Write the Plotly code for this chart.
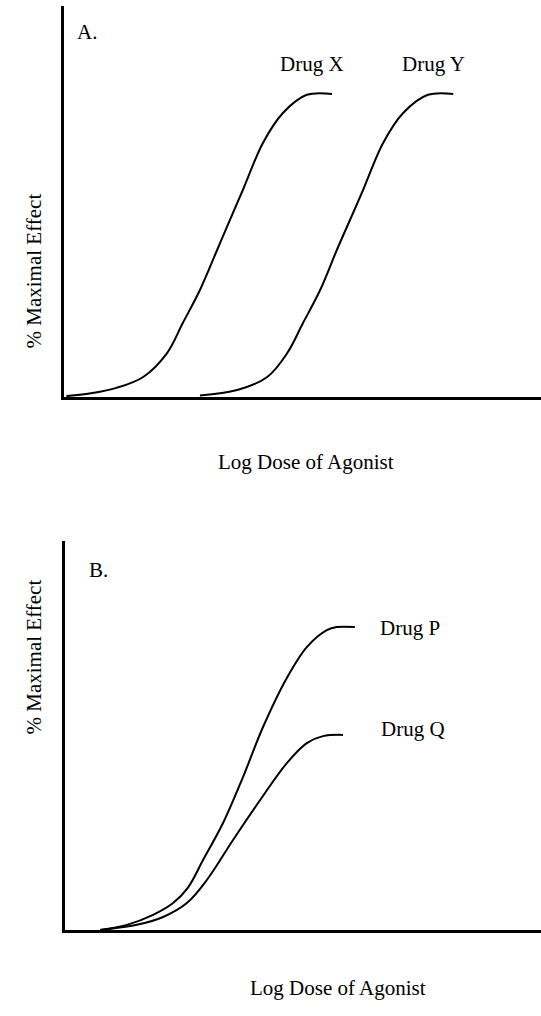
import plotly.graph_objects as go

# ---- Data (arbitrary log-dose units, % maximal effect) ----
# Panel A
drug_x_dose = [0.05, 0.6, 1.1, 1.66, 2.16, 2.49, 2.85, 3.21, 3.54, 3.75, 4.17, 4.59, 5.09, 5.62]
drug_x_eff = [0.3, 1.3, 3.0, 6.6, 14.5, 24.4, 35.3, 48.5, 60.7, 68.3, 83.8, 93.7, 99.7, 100]
drug_y_dose = [2.85, 3.63, 4.26, 4.68, 5.01, 5.37, 5.72, 6.06, 6.27, 6.69, 7.11, 7.63, 8.16]
drug_y_eff = [0.5, 2.3, 6.6, 14.5, 24.4, 35.3, 48.5, 60.7, 68.3, 83.8, 93.7, 99.7, 100]

# Panel B
drug_p_dose = [0.74, 1.30, 1.85, 2.27, 2.58, 2.90, 3.32, 3.74, 4.16, 4.66, 5.08, 5.50, 5.71, 6.09]
drug_p_eff = [0, 1.7, 5.0, 8.9, 13.9, 23.1, 35.3, 50.5, 67.0, 83.2, 93.4, 99.0, 100, 100]
drug_q_dose = [0.74, 1.51, 2.06, 2.56, 2.98, 3.53, 4.10, 4.66, 5.08, 5.42, 5.84]
drug_q_eff = [0, 1.7, 4.3, 8.9, 16.5, 29.7, 42.9, 55.1, 61.7, 64.0, 64.4]

FONT = "Liberation Serif, Times New Roman, serif"
FS = 21
W, H = 541, 1016

fig = go.Figure()
line = dict(color="black", width=2, shape="spline", smoothing=1.0)
fig.add_trace(go.Scatter(x=drug_x_dose, y=drug_x_eff, mode="lines", line=line, xaxis="x", yaxis="y", showlegend=False))
fig.add_trace(go.Scatter(x=drug_y_dose, y=drug_y_eff, mode="lines", line=line, xaxis="x", yaxis="y", showlegend=False))
fig.add_trace(go.Scatter(x=drug_p_dose, y=drug_p_eff, mode="lines", line=line, xaxis="x2", yaxis="y2", showlegend=False))
fig.add_trace(go.Scatter(x=drug_q_dose, y=drug_q_eff, mode="lines", line=line, xaxis="x2", yaxis="y2", showlegend=False))

ax_common = dict(showline=True, linecolor="black", linewidth=2.5, showgrid=False, zeroline=False,
                 showticklabels=False, ticks="", fixedrange=True)

fig.update_layout(
    width=W, height=H,
    margin=dict(l=0, r=0, t=0, b=0),
    paper_bgcolor="white", plot_bgcolor="white",
    font=dict(family=FONT, size=FS, color="black"),
    xaxis=dict(domain=[64 / W, 1], range=[0, 10], anchor="y", **ax_common),
    yaxis=dict(domain=[1 - 397 / H, 1 - 6 / H], range=[0, 129], anchor="x", **ax_common),
    xaxis2=dict(domain=[65 / W, 1], range=[0, 10], anchor="y2", **ax_common),
    yaxis2=dict(domain=[1 - 930 / H, 1 - 541 / H], range=[0, 128.4], anchor="x2", **ax_common),
)

ann = []
def a(text, x, y, xref, yref, **kw):
    d = dict(text=text, x=x, y=y, xref=xref, yref=yref, showarrow=False,
             font=dict(family=FONT, size=FS, color="black"))
    d.update(kw)
    ann.append(d)

# Panel A labels
a("A.", 0.23, 120.5, "x", "y", xanchor="left")
a("Drug X", 5.2, 110, "x", "y")
a("Drug Y", 7.74, 110, "x", "y")
# Panel B labels
a("B.", 0.46, 118.8, "x2", "y2", xanchor="left")
a("Drug P", 7.25, 99.7, "x2", "y2")
a("Drug Q", 7.31, 66.3, "x2", "y2")

# Axis titles
a("Log Dose of Agonist", 306 / W, 1 - 462 / H, "paper", "paper")
a("Log Dose of Agonist", 338 / W, 1 - 1002 / H, "paper", "paper")
a("% Maximal Effect", 19 / W, 1 - 192 / H, "paper", "paper", textangle=-90)
a("% Maximal Effect", 19 / W, 1 - 737 / H, "paper", "paper", textangle=-90)

fig.update_layout(annotations=ann)
fig.write_html("out.html")
